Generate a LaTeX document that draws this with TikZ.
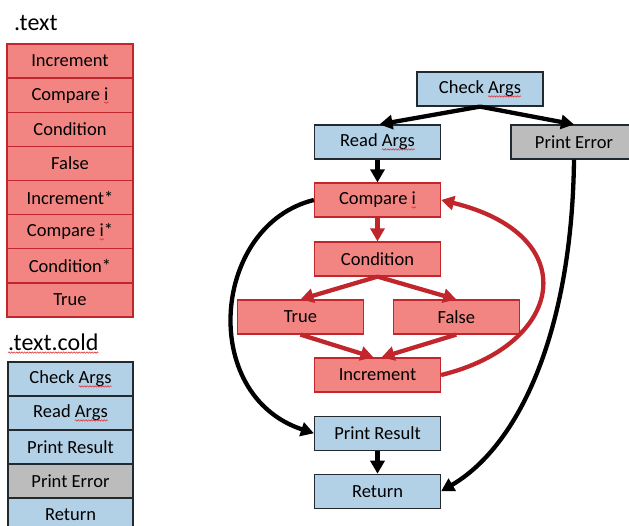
\documentclass[tikz,border=0pt]{standalone}
\usepackage{fontspec}
\setmainfont{Carlito}
\usetikzlibrary{arrows.meta,decorations.pathmorphing}

\definecolor{cellblue}{HTML}{B2D0E6}
\definecolor{cellred}{HTML}{F28482}
\definecolor{cellgrey}{HTML}{BCBCBC}
\definecolor{edgered}{HTML}{C0262C}
\definecolor{edgedark}{HTML}{22292F}
\definecolor{spellred}{HTML}{E0393E}

\newcommand\boxfont{\fontsize{18.5}{22}\selectfont}
\newcommand\headfont{\fontsize{24}{28}\selectfont}

% wavy spell-check underline under a word (kept out of the text's size)
\newcommand\sq[1]{\tikz[baseline=(sqw.base)]{%
  \node[inner sep=0pt,outer sep=0pt,draw=none,fill=none,minimum width=0pt,minimum height=0pt,anchor=base](sqw){#1};%
  \draw[squig,overlay]([yshift=-2.6pt]sqw.base west)--([yshift=-2.6pt]sqw.base east);}}

\tikzset{
  squig/.style={draw=spellred,fill=none,line width=0.6pt,decorate,
    decoration={snake,amplitude=0.7pt,segment length=2.6pt}},
  box/.style={minimum width=126pt,minimum height=34pt,inner sep=0pt,
    line width=1.2pt,font=\boxfont,text=black},
  hot/.style={box,fill=cellred,draw=edgered},
  cold/.style={box,fill=cellblue,draw=edgedark},
  err/.style={box,fill=cellgrey,draw=edgedark},
  blk/.style={line width=4.3pt,draw=black,-{Triangle[length=13pt,width=14pt]}},
  redarr/.style={blk,draw=edgered},
  head/.style={anchor=base west,inner sep=0pt,font=\headfont}
}

\begin{document}
\begin{tikzpicture}[x=1pt,y=-1pt]
\useasboundingbox (0,0) rectangle (629,525);
\clip (0,0) rectangle (629,525);

% section .text
\node[head] (hdrhot) at (14,30) {.text};
\node[hot] (t1) at (70,61.06)  {Increment};
\node[hot] (t2) at (70,95.19)  {Compare \sq{i}};
\node[hot] (t3) at (70,129.31) {Condition};
\node[hot] (t4) at (70,163.44) {False};
\node[hot] (t5) at (70,197.56) {Increment*};
\node[hot] (t6) at (70,231.69) {Compare \sq{i}*};
\node[hot] (t7) at (70,265.81) {Condition*};
\node[hot] (t8) at (70,299.94) {True};

% section .text.cold
\node[head] (hdrcold) at (8,350) {\sq{.text.cold}};
\node[cold,minimum width=125pt] (c1) at (70.5,379) {Check \sq{Args}};
\node[cold,minimum width=125pt] (c2) at (70.5,413) {Read \sq{Args}};
\node[cold,minimum width=125pt] (c3) at (70.5,447) {Print Result};
\node[err,minimum width=125pt]  (c4) at (70.5,481) {Print Error};
\node[cold,minimum width=125pt] (c5) at (70.5,515) {Return};

% control flow graph
\node[cold] (chk)  at (480,89)     {Check \sq{Args}};
\node[cold] (rd)   at (377.5,142)  {Read \sq{Args}};
\node[err]  (perr) at (574,142)    {Print Error};
\node[hot]  (cmp)  at (377.5,200)  {Compare \sq{i}};
\node[hot]  (cond) at (377.5,259)  {Condition};
\node[hot]  (tru)  at (300.5,317)  {True};
\node[hot]  (fls)  at (456.3,317)  {False};
\node[hot]  (inc)  at (377.5,375)  {Increment};
\node[cold] (pres) at (377.5,433.3){Print Result};
\node[cold] (ret)  at (377.5,491.3){Return};

\draw[blk] (chk.south) -- ([xshift=2pt]rd.north);
\draw[blk] (chk.south) -- (perr.north);
\draw[blk] (rd.south) -- (cmp.north);
\draw[redarr] (cmp.south) -- (cond.north);
\draw[redarr] (cond.south) -- (tru.north);
\draw[redarr] (cond.south) -- (fls.north);
\draw[redarr] (tru.south) -- ([xshift=-4pt]inc.north);
\draw[redarr] (fls.south) -- ([xshift=4pt]inc.north);
\draw[redarr] (inc.east) .. controls (565,345) and (585,235) .. (cmp.east);
\draw[blk] (cmp.west) .. controls (212,225) and (198,395) .. (pres.west);
\draw[blk] (pres.south) -- (ret.north);
\draw[blk] (perr.south) .. controls (572,330) and (520,445) .. (ret.east);
\end{tikzpicture}
\end{document}
